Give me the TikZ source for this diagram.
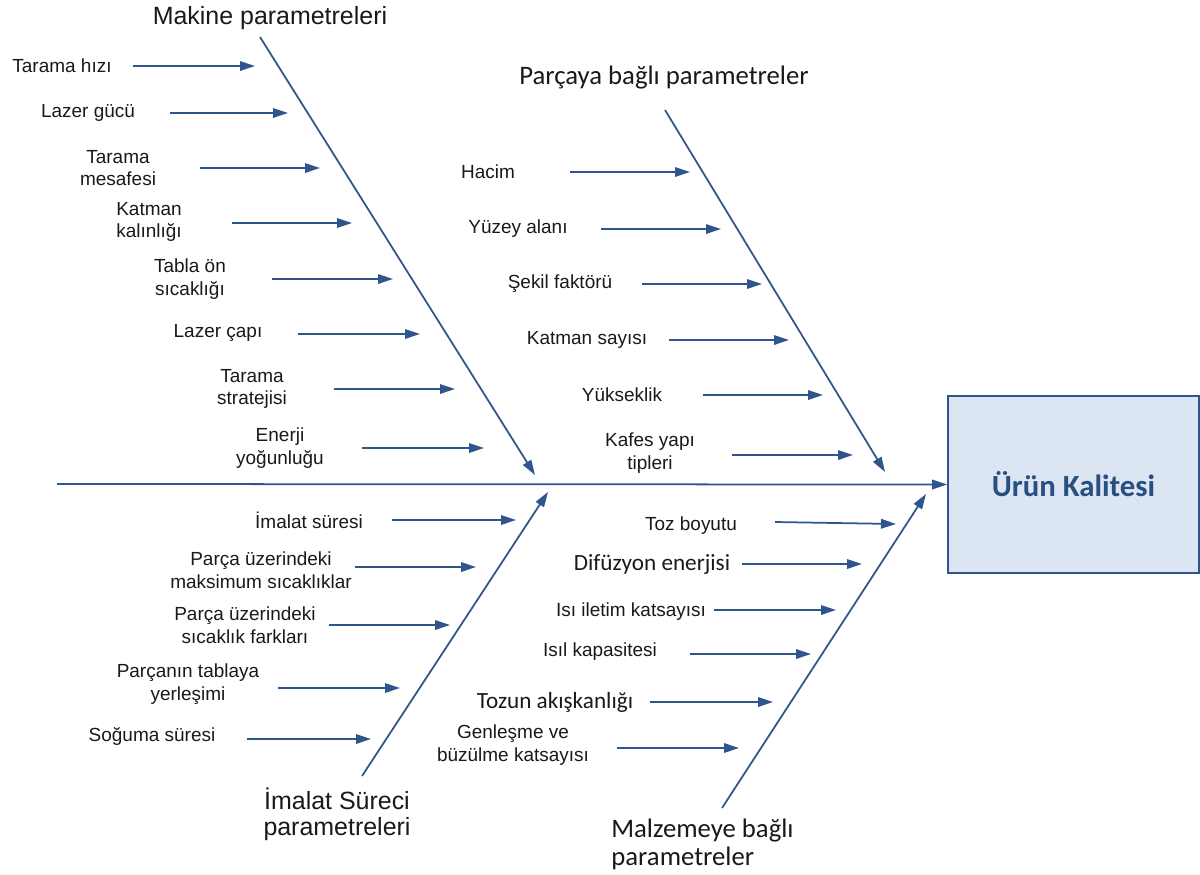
\documentclass[tikz,border=0pt]{standalone}
\usepackage{fontspec}
\setmainfont{Liberation Sans}
\newfontfamily\calfont{Carlito}
\usetikzlibrary{arrows.meta}
\definecolor{bl}{RGB}{48,84,140}
\definecolor{txt}{RGB}{25,25,25}
\definecolor{boxfill}{RGB}{220,230,242}
\definecolor{boxtxt}{RGB}{40,78,130}
\tikzset{
  lbl/.style={font=\fontsize{10.8}{13}\selectfont, text=txt, align=center, inner sep=0pt},
  callbl/.style={font=\calfont\fontsize{13.2}{15}\selectfont, text=txt, align=center, inner sep=0pt},
  ttl/.style={font=\fontsize{14.2}{14.8}\selectfont, text=txt, align=center, inner sep=0pt},
  calttl/.style={font=\calfont\fontsize{15.2}{16}\selectfont, text=txt, inner sep=0pt},
  arr/.style={draw=bl, line width=1pt, -{Triangle[length=3mm,width=1.9mm]}},
}
\begin{document}
\begin{tikzpicture}[x=0.2mm,y=-0.2mm]
\useasboundingbox (0,0) rectangle (1200,874);

% result box
\node[draw=bl, line width=0.9pt, fill=boxfill, minimum width=50.2mm, minimum height=35.4mm, inner sep=0pt,
      font=\calfont\bfseries\fontsize{17.5}{20}\selectfont, text=boxtxt] (res) at (1073.5,484.5) {Ürün Kalitesi};

% main spine
\coordinate (spS) at (57,484);
\draw[arr] (spS) -- (res.west);

% branches
\coordinate (mkA) at (260,37);   \coordinate (mkB) at (535,475);
\coordinate (pcA) at (665,110);  \coordinate (pcB) at (885,472);
\coordinate (imA) at (362,776);  \coordinate (imB) at (548,492);
\coordinate (mzA) at (722,808);  \coordinate (mzB) at (926,494);
\draw[arr] (mkA) -- (mkB);
\draw[arr] (pcA) -- (pcB);
\draw[arr] (imA) -- (imB);
\draw[arr] (mzA) -- (mzB);

% titles
\node[ttl] (tmk) at (270,18) {Makine parametreleri};
\node[calttl] (tpc) at (664,78) {Parçaya bağlı parametreler};
\node[ttl, font=\fontsize{14.2}{15}\selectfont] (tim) at (337,814) {İmalat Süreci\\parametreleri};
\node[calttl, align=left, anchor=west, font=\calfont\fontsize{15.2}{16}\selectfont] (tmz) at (611,844) {Malzemeye bağlı\\parametreler};

% Makine parametreleri causes
\node[lbl] (a1) at (62,66) {Tarama hızı};
\coordinate (a1s) at (133,66); \coordinate (a1e) at (255,66);
\node[lbl] (a2) at (88,113) {Lazer gücü};
\coordinate (a2s) at (170,113); \coordinate (a2e) at (288,113);
\node[lbl] (a3) at (118,168) {Tarama\\mesafesi};
\coordinate (a3s) at (200,168); \coordinate (a3e) at (320,168);
\node[lbl] (a4) at (149,222) {Katman\\kalınlığı};
\coordinate (a4s) at (232,223); \coordinate (a4e) at (352,223);
\node[lbl] (a5) at (190,279) {Tabla ön\\sıcaklığı};
\coordinate (a5s) at (272,279); \coordinate (a5e) at (393,279);
\node[lbl] (a6) at (218,333) {Lazer çapı};
\coordinate (a6s) at (298,334); \coordinate (a6e) at (420,334);
\node[lbl] (a7) at (252,389) {Tarama\\stratejisi};
\coordinate (a7s) at (334,389); \coordinate (a7e) at (455,389);
\node[lbl] (a8) at (280,448) {Enerji\\yoğunluğu};
\coordinate (a8s) at (362,448); \coordinate (a8e) at (484,448);
\foreach \i in {1,...,8} {\draw[arr] (a\i s) -- (a\i e);}

% Parçaya bağlı parametreler causes
\node[lbl] (b1) at (488,172) {Hacim};
\coordinate (b1s) at (570,172); \coordinate (b1e) at (690,172);
\node[lbl] (b2) at (518,229) {Yüzey alanı};
\coordinate (b2s) at (601,229); \coordinate (b2e) at (721,229);
\node[lbl] (b3) at (560,284) {Şekil faktörü};
\coordinate (b3s) at (642,284); \coordinate (b3e) at (762,284);
\node[lbl] (b4) at (587,340) {Katman sayısı};
\coordinate (b4s) at (669,340); \coordinate (b4e) at (789,340);
\node[lbl] (b5) at (622,395) {Yükseklik};
\coordinate (b5s) at (703,395); \coordinate (b5e) at (823,395);
\node[lbl] (b6) at (650,453) {Kafes yapı\\tipleri};
\coordinate (b6s) at (732,455); \coordinate (b6e) at (853,455);
\foreach \i in {1,...,6} {\draw[arr] (b\i s) -- (b\i e);}

% İmalat Süreci parametreleri causes
\node[lbl] (c1) at (309,520) {İmalat süresi};
\coordinate (c1s) at (392,520); \coordinate (c1e) at (516,520);
\node[lbl] (c2) at (261,570) {Parça üzerindeki\\maksimum sıcaklıklar};
\coordinate (c2s) at (355,567); \coordinate (c2e) at (476,567);
\node[lbl] (c3) at (245,625) {Parça üzerindeki\\sıcaklık farkları};
\coordinate (c3s) at (329,625); \coordinate (c3e) at (450,625);
\node[lbl] (c4) at (188,684) {Parçanın tablaya\\yerleşimi};
\coordinate (c4s) at (278,688); \coordinate (c4e) at (400,688);
\node[lbl] (c5) at (152,736) {Soğuma süresi};
\coordinate (c5s) at (247,739); \coordinate (c5e) at (371,739);
\foreach \i in {1,...,5} {\draw[arr] (c\i s) -- (c\i e);}

% Malzemeye bağlı parametreler causes
\node[lbl] (d1) at (691,526) {Toz boyutu};
\coordinate (d1s) at (775,522); \coordinate (d1e) at (896,524);
\node[callbl] (d2) at (652,564) {Difüzyon enerjisi};
\coordinate (d2s) at (742,564); \coordinate (d2e) at (862,564);
\node[lbl] (d3) at (631,612) {Isı iletim katsayısı};
\coordinate (d3s) at (714,610); \coordinate (d3e) at (836,610);
\node[lbl] (d4) at (600,652) {Isıl kapasitesi};
\coordinate (d4s) at (690,654); \coordinate (d4e) at (811,654);
\node[callbl] (d5) at (555,702) {Tozun akışkanlığı};
\coordinate (d5s) at (650,702); \coordinate (d5e) at (773,702);
\node[lbl] (d6) at (513,745) {Genleşme ve\\büzülme katsayısı};
\coordinate (d6s) at (617,748); \coordinate (d6e) at (739,748);
\foreach \i in {1,...,6} {\draw[arr] (d\i s) -- (d\i e);}
\end{tikzpicture}
\end{document}
